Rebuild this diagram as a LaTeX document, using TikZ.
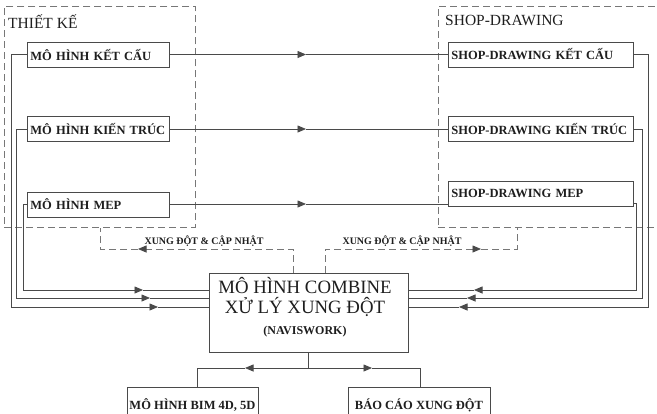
\documentclass[tikz,border=0pt]{standalone}
\usepackage{fontspec}
\setmainfont{Liberation Serif}
\usetikzlibrary{arrows.meta}
\definecolor{lnc}{HTML}{4A4A4A}
\definecolor{dsc}{HTML}{777777}
\definecolor{txc}{HTML}{1E1E1E}
\begin{document}
\begin{tikzpicture}[x=1pt,y=-1pt,
  every node/.style={text=txc},
  ln/.style={draw=lnc, line width=0.8pt},
  dsh/.style={draw=dsc, line width=0.8pt, dash pattern=on 7pt off 4pt},
  tip/.style={-{Triangle[length=8.5pt,width=7pt]}},
  dtip/.style={-{Triangle[length=8.5pt,width=7pt,color=lnc]}},
  lbox/.style={draw=lnc, line width=0.8pt, rectangle, anchor=west, inner xsep=3pt, inner ysep=0pt,
    minimum height=25pt, text width=136pt, align=left, font=\fontsize{12.5}{14}\selectfont\bfseries},
  rbox/.style={lbox, text width=179pt},
  bbox/.style={draw=lnc, line width=0.8pt, rectangle, inner sep=0pt, align=center,
    minimum height=36pt, font=\fontsize{12.5}{14}\selectfont\bfseries},
  grp/.style={dsh, rectangle, inner sep=0pt, anchor=north west},
  ttl/.style={anchor=base west, inner sep=0pt, font=\fontsize{15.5}{17}\selectfont},
  lbl/.style={inner sep=0pt, font=\fontsize{10}{12}\selectfont\bfseries},
  cmbt/.style={anchor=base, inner sep=0pt, font=\fontsize{18.8}{20}\selectfont}
]
\useasboundingbox (0,0) rectangle (657,413);
\clip (0,0) rectangle (657,413);

% group frames
\node[grp, minimum width=191pt, minimum height=221pt] (grpL) at (4,6) {};
\node[grp, minimum width=240pt, minimum height=221pt] (grpR) at (437.5,6) {};
\node[ttl] (tL) at (8,28) {THIẾT KẾ};
\node[ttl] (tR) at (445,25) {SHOP-DRAWING};

% design models
\node[lbox] (kc) at (27,54.5) {MÔ HÌNH KẾT CẤU};
\node[lbox] (kt) at (27,129) {MÔ HÌNH KIẾN TRÚC};
\node[lbox] (mep) at (27,204.5) {MÔ HÌNH MEP};

% shop drawings
\node[rbox] (rkc) at (448,54.5) {SHOP-DRAWING KẾT CẤU};
\node[rbox] (rkt) at (448,129) {SHOP-DRAWING KIẾN TRÚC};
\node[rbox] (rmep) at (448,193.5) {SHOP-DRAWING MEP};

% combine
\node[draw=lnc, line width=0.8pt, rectangle, minimum width=199pt, minimum height=79pt, inner sep=0pt] (cmb) at (308.5,312.5) {};
\node[cmbt] (c1) at (305,293) {MÔ HÌNH COMBINE};
\node[cmbt] (c2) at (305,313) {XỬ LÝ XUNG ĐỘT};
\node[cmbt, font=\fontsize{12}{13}\selectfont\bfseries] (c3) at (305,334) {(NAVISWORK)};

% outputs
\node[bbox, minimum width=131pt] (bim) at (192.5,405) {MÔ HÌNH BIM 4D, 5D};
\node[bbox, minimum width=142pt] (bc) at (419,405) {BÁO CÁO XUNG ĐỘT};

% horizontal connectors design -> shop drawing
\coordinate (h1) at (306,54.5);
\coordinate (h2) at (306,129);
\coordinate (h3) at (306,204);
\draw[ln,tip] (kc.east) -- (h1);
\draw[ln] (h1) -- (rkc.west);
\draw[ln,tip] (kt.east) -- (h2);
\draw[ln] (h2) -- (rkt.west);
\draw[ln,tip] (mep.east |- h3) -- (h3);
\draw[ln] (h3) -- (rmep.west |- h3);

% left feedback lines
\coordinate (l1) at (11,307);
\coordinate (l2) at (16,298);
\coordinate (l3) at (23,290);
\coordinate (a1) at (158,307);
\coordinate (a2) at (150,298);
\coordinate (a3) at (143,290);
\draw[ln,tip] (kc.west) -| (l1) -- (a1);
\draw[ln] (a1) -- (cmb.west |- a1);
\draw[ln,tip] (kt.west) -| (l2) -- (a2);
\draw[ln] (a2) -- (cmb.west |- a2);
\draw[ln,tip] (mep.west) -| (l3) -- (a3);
\draw[ln] (a3) -- (cmb.west |- a3);

% right feedback lines
\coordinate (r1) at (648,307);
\coordinate (r2) at (642,298);
\coordinate (r3) at (636,290);
\coordinate (b1) at (459,307);
\coordinate (b2) at (467,298);
\coordinate (b3) at (474,290);
\draw[ln,tip] (rkc.east) -| (r1) -- (b1);
\draw[ln] (b1) -- (cmb.east |- b1);
\draw[ln,tip] (rkt.east) -| (r2) -- (b2);
\draw[ln] (b2) -- (cmb.east |- b2);
\draw[ln,tip] (rmep.east |- 0,203) -| (r3) -- (b3);
\draw[ln] (b3) -- (cmb.east |- b3);

% dashed clash feedback
\coordinate (dl) at (138,249);
\coordinate (dr) at (481,249);
\draw[dsh,dtip] (cmb.north -| 293,0) |- (dl);
\draw[dsh] (dl) -| (grpL.south -| 100,0);
\draw[dsh,dtip] (cmb.north -| 325,0) |- (dr);
\draw[dsh] (dr) -| (grpR.south -| 517,0);
\node[lbl] (x1) at (204,241) {XUNG ĐỘT \& CẬP NHẬT};
\node[lbl] (x2) at (402,241) {XUNG ĐỘT \& CẬP NHẬT};

% outputs connectors
\coordinate (jb) at (308.5,368);
\coordinate (ob1) at (245,368);
\coordinate (ob2) at (372,368);
\draw[ln] (cmb.south) -- (jb);
\draw[ln,tip] (jb) -- (ob1);
\draw[ln] (ob1) -| (bim.north -| 197,0);
\draw[ln,tip] (jb) -- (ob2);
\draw[ln] (ob2) -| (bc.north -| 420,0);
\end{tikzpicture}
\end{document}
